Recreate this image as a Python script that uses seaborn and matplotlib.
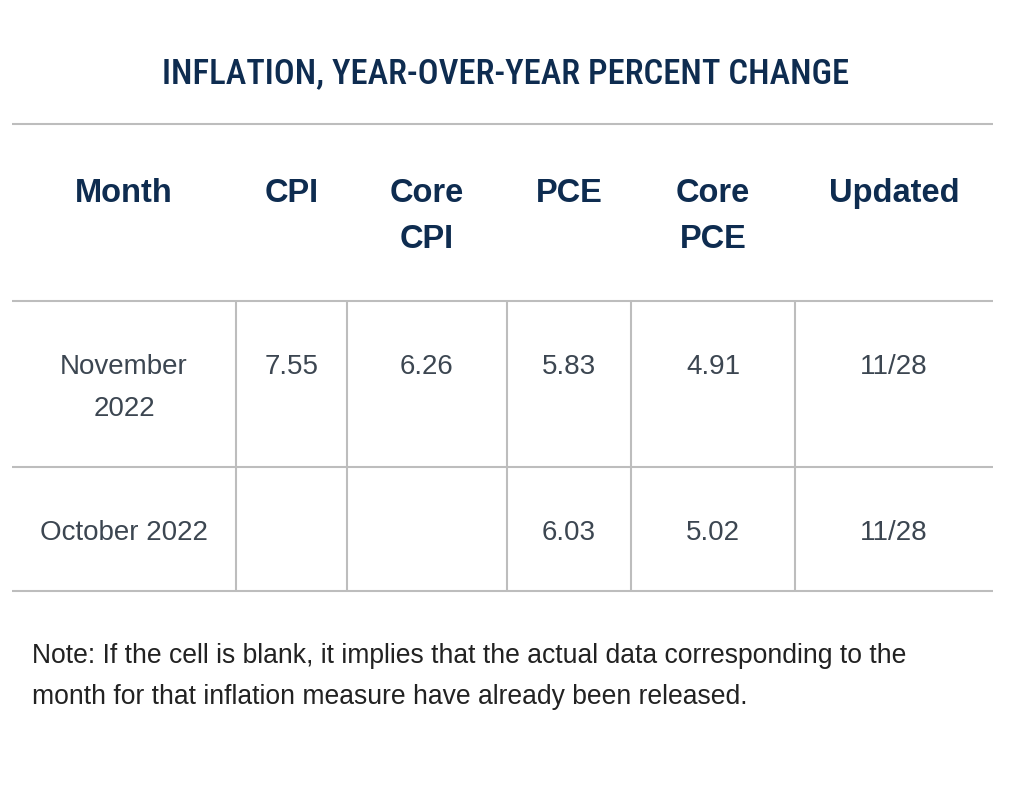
import matplotlib
matplotlib.use("Agg")
import matplotlib.pyplot as plt
import seaborn as sns
from matplotlib import font_manager

# table content
title = "INFLATION, YEAR-OVER-YEAR PERCENT CHANGE"
headers = ["Month", "CPI", "Core\nCPI", "PCE", "Core\nPCE", "Updated"]
months = ["November\n2022", "October 2022"]
cpi = [7.55, None]
core_cpi = [6.26, None]
pce = [5.83, 6.03]
core_pce = [4.91, 5.02]
updated = ["11/28", "11/28"]
note = ("Note: If the cell is blank, it implies that the actual data corresponding to the\n"
        "month for that inflation measure have already been released.")

sns.set_theme(style="white")
plt.rcParams["font.family"] = ["Liberation Sans", "DejaVu Sans"]

W, H = 1012, 797
fig = plt.figure(figsize=(W / 100, H / 100), dpi=100)
ax = fig.add_axes([0, 0, 1, 1])
ax.set_xlim(0, W)
ax.set_ylim(H, 0)
ax.axis("off")

navy = "#0e2c50"
body = "#3c4651"
grid = "#bdbdbd"

names = {f.name for f in font_manager.fontManager.ttflist}
cond = [n for n in ["Liberation Sans Narrow", "DejaVu Sans Condensed", "Roboto Condensed"] if n in names]
title_font = cond + ["Roboto", "DejaVu Sans"]

ax.text(W / 2, 83, title, ha="center", va="baseline", fontsize=25,
        fontweight="medium", color=navy, family=title_font)

# column edges and row lines
edges = [12, 236, 347, 507, 631, 795, 993]
centers = [(a + b) / 2 for a, b in zip(edges[:-1], edges[1:])]
row_lines = [124, 301, 467, 591]

ax.hlines(row_lines, edges[0], edges[-1], color=grid, lw=1.5)
ax.vlines(edges[1:-1], row_lines[1], row_lines[-1], color=grid, lw=1.5)

# header
for x, h in zip(centers, headers):
    for i, part in enumerate(h.split("\n")):
        ax.text(x, 202 + i * 46, part, ha="center", va="baseline",
                fontsize=23.5, fontweight="bold", color=navy)

# body rows
def fmt(v):
    if v is None:
        return ""
    if isinstance(v, float):
        return f"{v:.2f}"
    return v

row_base = [374, 540]
for r in range(len(months)):
    cells = [months[r], cpi[r], core_cpi[r], pce[r], core_pce[r], updated[r]]
    for x, c in zip(centers, cells):
        for i, part in enumerate(fmt(c).split("\n")):
            ax.text(x, row_base[r] + i * 42, part, ha="center", va="baseline",
                    fontsize=20, color=body)

for i, line in enumerate(note.split("\n")):
    ax.text(32, 663 + i * 41, line, ha="left", va="baseline",
            fontsize=19.1, color="#222222")

fig.savefig("out.png", dpi=100)
